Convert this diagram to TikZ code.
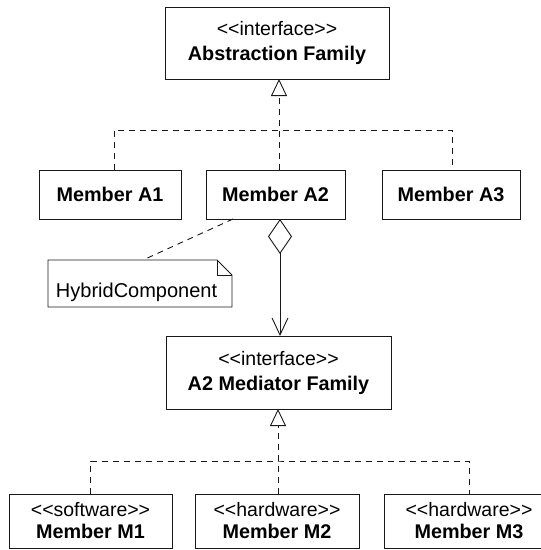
\documentclass[tikz,border=0pt]{standalone}
\usepackage{fontspec}
\setmainfont{Liberation Sans}
\usetikzlibrary{arrows.meta}
\newcommand{\stereo}[1]{{\fontsize{19.5}{24}\selectfont <{}<#1>{}>}}
\begin{document}
\begin{tikzpicture}[x=1pt,y=-1pt,
  every node/.style={inner sep=0pt,outer sep=0pt},
  umlbox/.style={draw=black!90,line width=0.9pt,fill=white,align=center,
    font=\fontsize{19.8}{25}\selectfont},
  smallbox/.style={umlbox,font=\fontsize{19.8}{22}\selectfont},
  real/.style={draw=black!90,line width=0.9pt,dash pattern=on 6pt off 5pt},
  solidline/.style={draw=black!90,line width=0.9pt},
  gentip/.style={-{Triangle[open,length=17pt,width=16pt,line width=0.9pt]}}
]
\useasboundingbox (0,0) rectangle (541,550);

% boxes
\node[umlbox,minimum width=224pt,minimum height=72pt] (abs) at (277,43)
  {\stereo{interface}\\\textbf{Abstraction Family}};
\node[umlbox,minimum width=142pt,minimum height=49pt] (a1) at (110,194.5) {\textbf{Member A1}};
\node[umlbox,minimum width=139pt,minimum height=49pt] (a2) at (275.5,194.5) {\textbf{Member A2}};
\node[umlbox,minimum width=138pt,minimum height=49pt] (a3) at (451,194.5) {\textbf{Member A3}};
\node[umlbox,minimum width=225pt,minimum height=73pt] (med) at (278.5,372.5)
  {\stereo{interface}\\\textbf{A2 Mediator Family}};
\node[smallbox,minimum width=163pt,minimum height=54pt] (m1) at (90.5,521)
  {\stereo{software}\\\textbf{Member M1}};
\node[smallbox,minimum width=164pt,minimum height=54pt] (m2) at (277,521)
  {\stereo{hardware}\\\textbf{Member M2}};
\node[smallbox,minimum width=170pt,minimum height=54pt] (m3) at (469,521)
  {\stereo{hardware}\\\textbf{Member M3}};

% note
\node[minimum width=184pt,minimum height=47pt] (note) at (140,283.5) {};
\draw[solidline] (note.north west) -- ([xshift=-15pt]note.north east)
  -- ([yshift=-15pt]note.north east) -- (note.south east) -- (note.south west) -- cycle;
\draw[solidline] ([xshift=-15pt]note.north east) |- ([yshift=-15pt]note.north east);
\node[anchor=base west,font=\fontsize{20}{22}\selectfont] (notetext) at (56,297) {HybridComponent};
\draw[real] ([xshift=27pt]a2.south west) -- ([xshift=3pt]note.north);

% realization to Abstraction Family
\coordinate (ja) at (279,130);
\draw[real] ([xshift=4pt]a1.north) |- (ja) -| ([xshift=1pt]a3.north);
\draw[real,gentip] ([xshift=3.5pt]a2.north) -- ([xshift=2pt]abs.south);

% aggregation A2 -> mediator
\draw[solidline,{Diamond[open,length=35pt,width=24pt,line width=0.9pt]}-{Straight Barb[length=17pt,width=16pt,line width=0.9pt]}]
  ([xshift=4.5pt]a2.south) -- ([xshift=1.5pt]med.north);

% realization to Mediator
\coordinate (jm) at (278,461);
\draw[real] (m1.north) |- (jm) -| (m3.north);
\draw[real,gentip] ([xshift=1pt]m2.north) -- ([xshift=-0.5pt]med.south);
\end{tikzpicture}
\end{document}
